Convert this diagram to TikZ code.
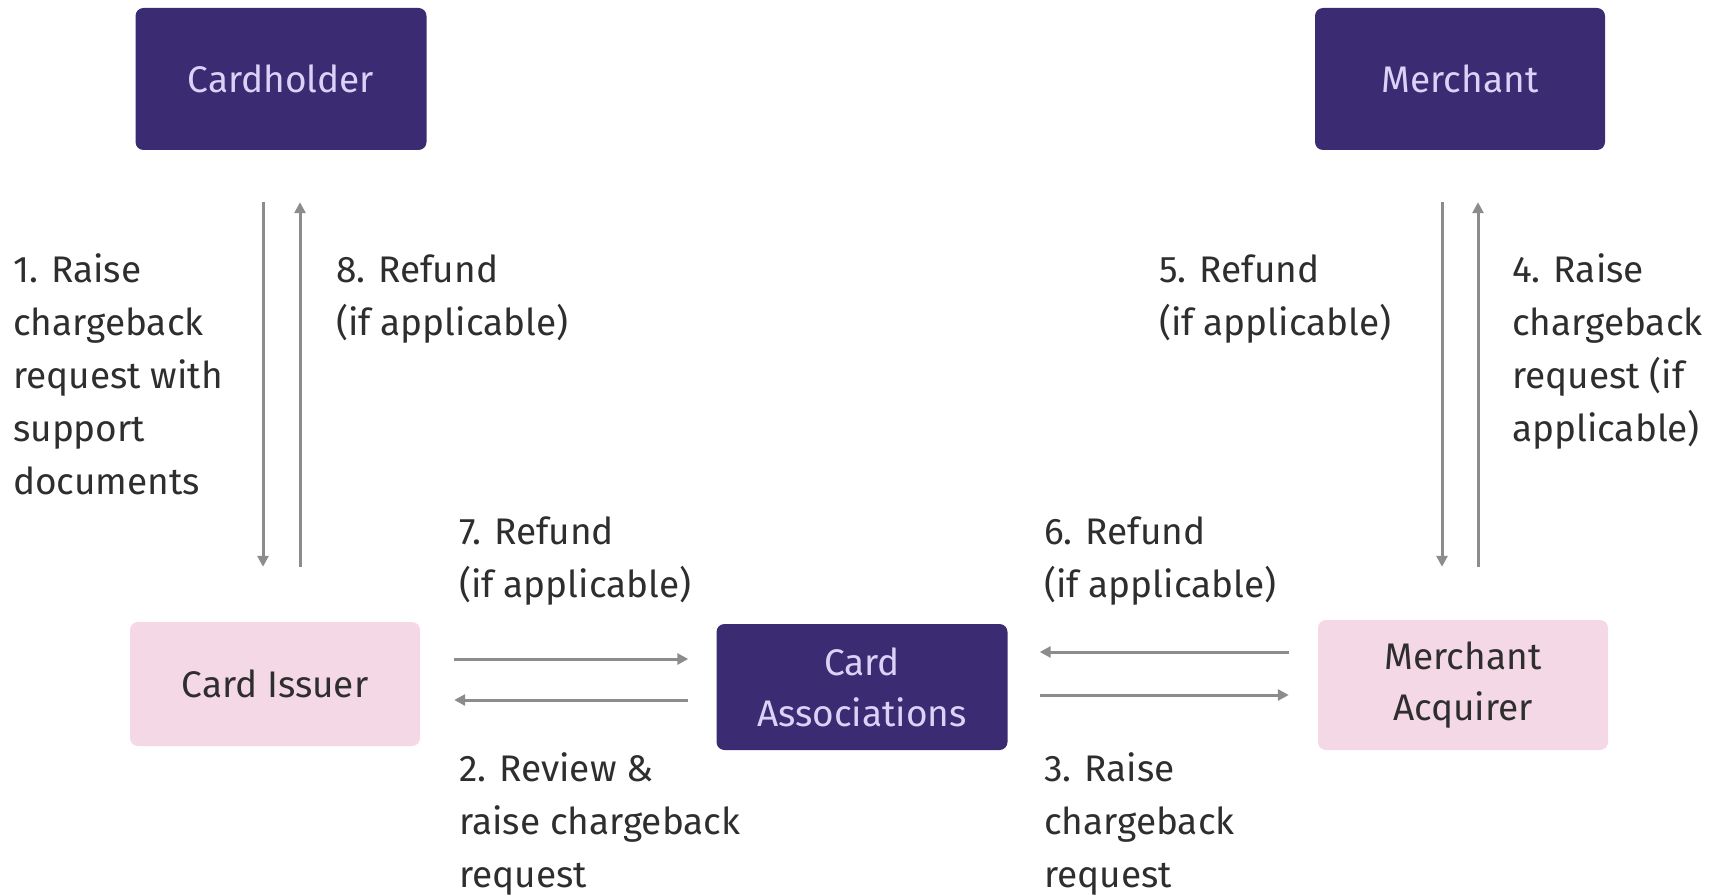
\documentclass[tikz,border=0pt]{standalone}
\usepackage{fontspec}
\setmainfont{Fira Sans}
\usetikzlibrary{arrows.meta}
\definecolor{darkbox}{HTML}{3B2B72}
\definecolor{lavtext}{HTML}{DCD2F8}
\definecolor{pinkbox}{HTML}{F5D8E5}
\definecolor{labtext}{HTML}{2E2E2E}
\definecolor{arrgray}{HTML}{8C8C8C}
\tikzset{
  darknode/.style={fill=darkbox, rounded corners=8pt, text=lavtext, align=center,
    font=\fontsize{37}{51}\selectfont, inner sep=0pt},
  pinknode/.style={fill=pinkbox, rounded corners=8pt, text=labtext, align=center,
    font=\fontsize{37}{51}\selectfont, inner sep=0pt},
  lab/.style={text=labtext, align=left, anchor=base west, inner sep=0pt,
    font=\fontsize{37}{53}\selectfont},
  arr/.style={draw=arrgray, line width=3pt, -{Triangle[length=11pt,width=11pt]}},
}
\begin{document}
\begin{tikzpicture}[x=1pt,y=-1pt]
\useasboundingbox (0,0) rectangle (1727,896);
% boxes
\node[darknode, minimum width=291, minimum height=142] (cardholder) at (281,79) {Cardholder};
\node[darknode, minimum width=290, minimum height=142] (merchant) at (1460,79) {Merchant};
\node[pinknode, minimum width=290, minimum height=124] (issuer) at (275,684) {Card Issuer};
\node[darknode, minimum width=291, minimum height=126] (assoc) at (862,687) {Card\\Associations};
\node[pinknode, minimum width=290, minimum height=130] (acquirer) at (1463,685) {Merchant\\Acquirer};
% vertical arrows left
\draw[arr, shorten <=52pt, shorten >=55pt] (cardholder.south -| 263,0) -- (issuer.north -| 263,0);
\draw[arr, shorten <=55pt, shorten >=52pt] (issuer.north -| 300,0) -- (cardholder.south -| 300,0);
% vertical arrows right
\draw[arr, shorten <=52pt, shorten >=53pt] (merchant.south -| 1442,0) -- (acquirer.north -| 1442,0);
\draw[arr, shorten <=53pt, shorten >=52pt] (acquirer.north -| 1478,0) -- (merchant.south -| 1478,0);
% horizontal arrows left
\draw[arr, shorten <=34pt, shorten >=28pt] (issuer.east |- 0,659) -- (assoc.west |- 0,659);
\draw[arr, shorten <=28pt, shorten >=34pt] (assoc.west |- 0,700) -- (issuer.east |- 0,700);
% horizontal arrows right
\draw[arr, shorten <=29pt, shorten >=32pt] (acquirer.west |- 0,652) -- (assoc.east |- 0,652);
\draw[arr, shorten <=32pt, shorten >=29pt] (assoc.east |- 0,695) -- (acquirer.west |- 0,695);
% labels (anchor = baseline of last line)
\node[lab] (l1) at (13,494) {1. Raise\\chargeback\\request with\\support\\documents};
\node[lab] (l8) at (336,335) {8. Refund\\(if applicable)};
\node[lab] (l5) at (1159,335) {5. Refund\\(if applicable)};
\node[lab] (l4) at (1512,441) {4. Raise\\chargeback\\request (if\\applicable)};
\node[lab] (l7) at (459,597) {7. Refund\\(if applicable)};
\node[lab] (l6) at (1044,597) {6. Refund\\(if applicable)};
\node[lab] (l2) at (459,887) {2. Review \&\\raise chargeback\\request};
\node[lab] (l3) at (1044,887) {3. Raise\\chargeback\\request};
\end{tikzpicture}
\end{document}
